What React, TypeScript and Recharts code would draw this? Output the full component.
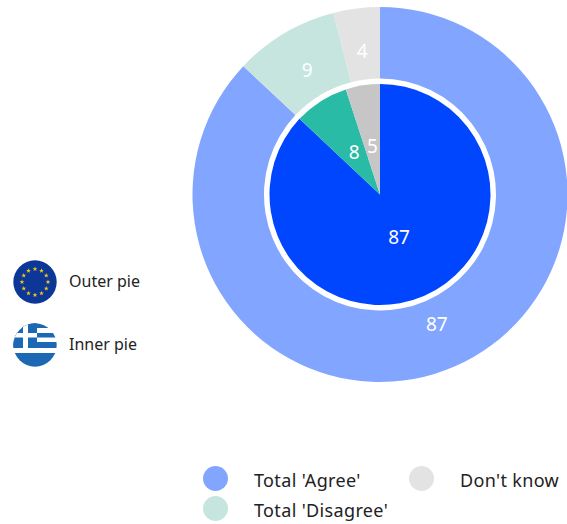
import React from 'react';
import { PieChart, Pie, Cell } from 'recharts';

const categories = ["Total 'Agree'", "Total 'Disagree'", "Don't know"];
const outerValues = [87, 9, 4];
const innerValues = [87, 8, 5];
const outerColors = ['#82a6ff', '#c5e5de', '#e3e3e3'];
const innerColors = ['#0046ff', '#2abba7', '#c6c6c6'];

const outerData = categories.map((name, i) => ({ name, value: outerValues[i] }));
const innerData = categories.map((name, i) => ({ name, value: innerValues[i] }));

const FONT = '"Noto Sans", sans-serif';
const RAD = Math.PI / 180;

// white value label at a fixed distance from the pie centre
const makeLabel = (dist: number) => (props: any) => {
  const { cx, cy, midAngle, value } = props;
  const x = cx + dist * Math.cos(-midAngle * RAD);
  const y = cy + dist * Math.sin(-midAngle * RAD) - 1.5;
  return (
    <text x={x} y={y} fill="#fff" fontSize={19} fontFamily={FONT} textAnchor="middle" dominantBaseline="central">
      {value}
    </text>
  );
};

const starPoints = (cx: number, cy: number, r: number) => {
  const pts: string[] = [];
  for (let i = 0; i < 10; i++) {
    const a = (-90 + i * 36) * RAD;
    const rr = i % 2 === 0 ? r : r * 0.42;
    pts.push(`${cx + rr * Math.cos(a)},${cy + rr * Math.sin(a)}`);
  }
  return pts.join(' ');
};

const EuFlag = () => (
  <svg width={44} height={44} viewBox="0 0 44 44" style={{ display: 'block' }}>
    <circle cx={22} cy={22} r={21.7} fill="#0c3796" />
    {Array.from({ length: 12 }, (_, i) => {
      const a = i * 30 * RAD;
      return <polygon key={i} points={starPoints(22 + 13 * Math.sin(a), 22 - 13 * Math.cos(a), 2.5)} fill="#f0c818" />;
    })}
  </svg>
);

const GreekFlag = () => (
  <svg width={44} height={44} viewBox="0 0 44 44" style={{ display: 'block' }}>
    <defs>
      <clipPath id="grClip">
        <circle cx={22} cy={22} r={21.7} />
      </clipPath>
    </defs>
    <g clipPath="url(#grClip)">
      <rect width={44} height={44} fill="#fff" />
      <rect x={0} y={0} width={44} height={5} fill="#1c68b4" />
      <rect x={0} y={10} width={44} height={4.5} fill="#1c68b4" />
      <rect x={0} y={19} width={44} height={6} fill="#1c68b4" />
      <rect x={0} y={30} width={44} height={14} fill="#1c68b4" />
      <rect x={0} y={0} width={24} height={25} fill="#1c68b4" />
      <rect x={0} y={10} width={24} height={4.5} fill="#fff" />
      <rect x={10} y={0} width={5} height={25} fill="#fff" />
    </g>
  </svg>
);

const textStyle: React.CSSProperties = {
  position: 'absolute',
  fontFamily: FONT,
  fontSize: 16,
  color: '#222',
  lineHeight: '20px',
  whiteSpace: 'nowrap',
};

const legendSpots = [
  { left: 203, top: 466, textLeft: 254 },
  { left: 203, top: 496, textLeft: 254 },
  { left: 409, top: 466, textLeft: 460 },
];

export default function App() {
  return (
    <div style={{ position: 'absolute', left: 0, top: 0, width: 567, height: 524, background: '#fff', overflow: 'hidden' }}>
      <PieChart width={567} height={524} margin={{ top: 0, right: 0, bottom: 0, left: 0 }}>
        <Pie
          data={outerData}
          dataKey="value"
          cx={380}
          cy={194.5}
          startAngle={90}
          endAngle={-270}
          innerRadius={116}
          outerRadius={187.5}
          stroke="none"
          label={makeLabel(143)}
          labelLine={false}
          isAnimationActive={false}
        >
          {outerData.map((d, i) => (
            <Cell key={d.name} fill={outerColors[i]} />
          ))}
        </Pie>
        <Pie
          data={innerData}
          dataKey="value"
          cx={380}
          cy={194.5}
          startAngle={90}
          endAngle={-270}
          innerRadius={0}
          outerRadius={110.5}
          stroke="none"
          label={makeLabel(48)}
          labelLine={false}
          isAnimationActive={false}
        >
          {innerData.map((d, i) => (
            <Cell key={d.name} fill={innerColors[i]} />
          ))}
        </Pie>
      </PieChart>

      <div style={{ position: 'absolute', left: 13, top: 259.5 }}><EuFlag /></div>
      <div style={{ ...textStyle, left: 69, top: 271 }}>Outer pie</div>
      <div style={{ position: 'absolute', left: 13, top: 323 }}><GreekFlag /></div>
      <div style={{ ...textStyle, left: 69, top: 334 }}>Inner pie</div>

      {categories.map((name, i) => (
        <React.Fragment key={name}>
          <div
            style={{
              position: 'absolute',
              left: legendSpots[i].left,
              top: legendSpots[i].top,
              width: 25,
              height: 25,
              borderRadius: '50%',
              background: outerColors[i],
            }}
          />
          <div
            style={{
              ...textStyle,
              fontSize: 18,
              letterSpacing: 0.35,
              left: legendSpots[i].textLeft,
              top: legendSpots[i].top + 4,
            }}
          >
            {name}
          </div>
        </React.Fragment>
      ))}
    </div>
  );
}
